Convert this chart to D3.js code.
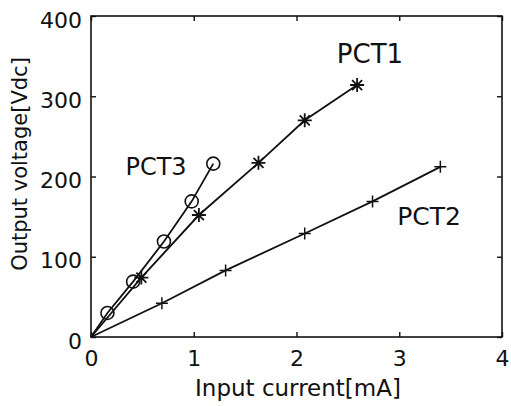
<!DOCTYPE html>
<html>
<head>
<meta charset="utf-8">
<script src="https://cdn.jsdelivr.net/npm/d3@7"></script>
<style>
  body { margin: 0; background: #fff; }
  text { font-family: "DejaVu Sans", sans-serif; fill: #111; }
</style>
</head>
<body>
<div id="chart"></div>
<script>
const pct1X = [0, 0.49, 1.05, 1.63, 2.08, 2.59];
const pct1Y = [0, 74, 152, 217, 270, 314];
const pct2X = [0, 0.69, 1.31, 2.08, 2.74, 3.40];
const pct2Y = [0, 42, 83, 129, 169, 212];
const pct3X = [0, 0.16, 0.41, 0.71, 0.98, 1.19];
const pct3Y = [0, 30, 69, 119, 169, 216];
const xTicks = [0, 1, 2, 3, 4];
const yTicks = [0, 100, 200, 300, 400];

const W = 511, H = 406;
const margin = { top: 16, right: 9, bottom: 69, left: 91 };
const width = W - margin.left - margin.right;
const height = H - margin.top - margin.bottom;

const svg = d3.select("#chart").append("svg")
    .attr("width", W)
    .attr("height", H);

const g = svg.append("g")
    .attr("transform", `translate(${margin.left},${margin.top})`);

const x = d3.scaleLinear().domain([0, 4]).range([0, width]);
const y = d3.scaleLinear().domain([0, 400]).range([height, 0]);

// box
g.append("rect")
    .attr("width", width).attr("height", height)
    .attr("fill", "none").attr("stroke", "#111").attr("stroke-width", 1.6);

// axes with inward ticks
const ax = (sel) => sel.selectAll(".domain").remove();
g.append("g").attr("transform", `translate(0,${height})`)
    .call(d3.axisBottom(x).tickValues(xTicks).tickSizeInner(-5).tickPadding(13).tickFormat(d3.format("d")))
    .call(ax)
    .call(s => s.selectAll("text").attr("font-size", 22).attr("dy", "0.71em"));
g.append("g")
    .call(d3.axisLeft(y).tickValues(yTicks).tickSizeInner(-5).tickPadding(9))
    .call(ax)
    .call(s => s.selectAll("text").attr("font-size", 22).attr("dy", "0.5em"));
g.append("g")
    .call(d3.axisTop(x).tickValues(xTicks).tickSizeInner(-5).tickFormat(""))
    .call(ax);
g.append("g").attr("transform", `translate(${width},0)`)
    .call(d3.axisRight(y).tickValues(yTicks).tickSizeInner(-5).tickFormat(""))
    .call(ax);
g.selectAll(".tick line").attr("stroke", "#111").attr("stroke-width", 1.4);
g.selectAll(".tick text").attr("fill", "#111").attr("font-family", "DejaVu Sans, sans-serif");

const line = d3.line().x(d => x(d[0])).y(d => y(d[1]));
const series = [
    { name: "PCT1", xs: pct1X, ys: pct1Y, marker: "star" },
    { name: "PCT2", xs: pct2X, ys: pct2Y, marker: "plus" },
    { name: "PCT3", xs: pct3X, ys: pct3Y, marker: "circle" }
];

series.forEach(s => {
    const pts = s.xs.map((v, i) => [v, s.ys[i]]);
    g.append("path").datum(pts)
        .attr("d", line)
        .attr("fill", "none").attr("stroke", "#111").attr("stroke-width", 1.8);
    const m = g.selectAll(null).data(pts.slice(1)).enter().append("g")
        .attr("transform", d => `translate(${x(d[0])},${y(d[1])})`);
    if (s.marker === "circle") {
        m.append("circle").attr("r", 6.5)
            .attr("fill", "none").attr("stroke", "#111").attr("stroke-width", 1.6);
    } else if (s.marker === "plus") {
        m.append("path").attr("d", "M-6,0H6M0,-6V6")
            .attr("stroke", "#111").attr("stroke-width", 1.5);
    } else {
        m.append("path").attr("d", "M-7,0H7M0,-7V7M-5,-5L5,5M-5,5L5,-5")
            .attr("stroke", "#111").attr("stroke-width", 1.8);
    }
});

// series labels
svg.append("text").attr("x", 370).attr("y", 63)
    .attr("text-anchor", "middle").attr("font-size", 26)
    .attr("font-family", "Liberation Serif, Times New Roman, serif")
    .text("PCT1");
svg.append("text").attr("x", 429).attr("y", 225)
    .attr("text-anchor", "middle").attr("font-size", 25)
    .attr("font-family", "Liberation Sans, Arial, sans-serif")
    .text("PCT2");
svg.append("text").attr("x", 156).attr("y", 175)
    .attr("text-anchor", "middle").attr("font-size", 24)
    .attr("font-family", "Liberation Sans, Arial, sans-serif")
    .text("PCT3");

// axis titles
svg.append("text").attr("x", 298).attr("y", 396)
    .attr("text-anchor", "middle").attr("font-size", 23)
    .text("Input current[mA]");
svg.append("text")
    .attr("transform", `translate(27,164) rotate(-90)`)
    .attr("text-anchor", "middle").attr("font-size", 21)
    .text("Output voltage[Vdc]");
</script>
</body>
</html>
